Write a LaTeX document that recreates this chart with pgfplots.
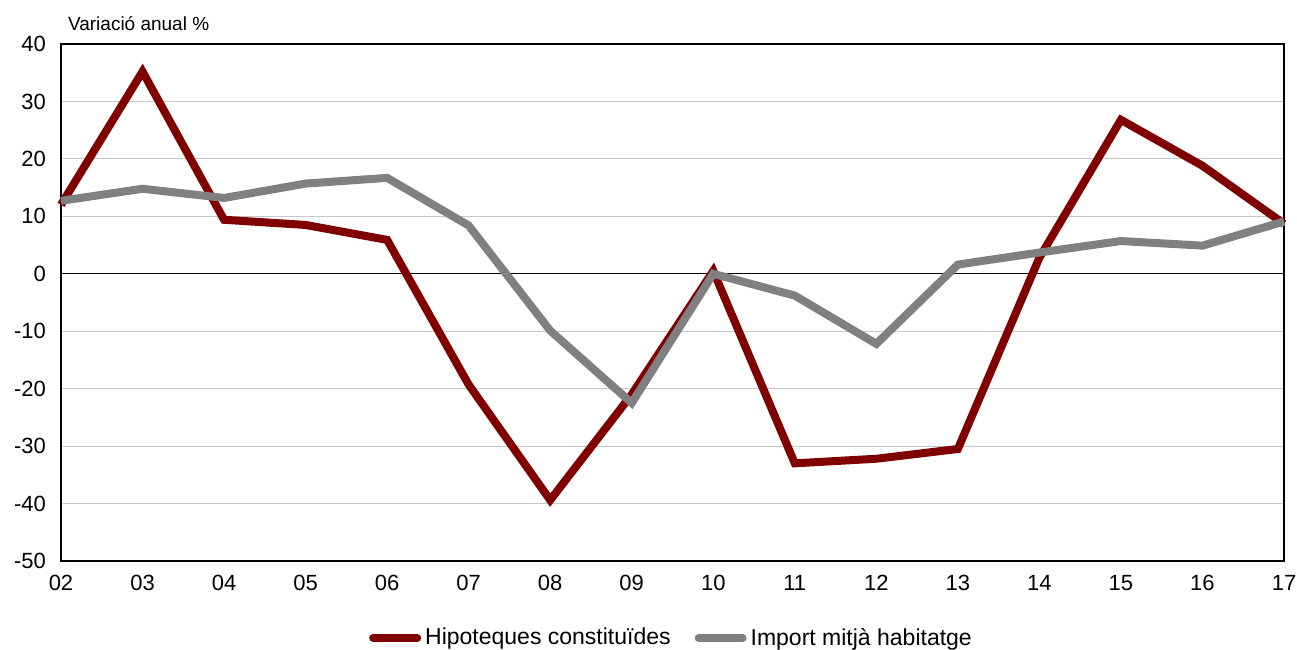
\documentclass[border=0pt]{standalone}
\usepackage{pgfplots}
\pgfplotsset{compat=1.18}
\usepackage{fontspec}
\setmainfont{Liberation Sans}
\definecolor{hipo}{HTML}{800000}
\definecolor{impo}{HTML}{808080}
\definecolor{gridc}{HTML}{C8C8C8}
\begin{document}
\begin{tikzpicture}
\useasboundingbox (-30.5pt,-44pt) rectangle (618pt,280.5pt);
\begin{axis}[
  at={(0,0)}, anchor=south west,
  scale only axis, width=611.5pt, height=258.5pt,
  xmin=0, xmax=15, ymin=-50, ymax=40,
  xtick={0,...,15},
  xticklabels={02,03,04,05,06,07,08,09,10,11,12,13,14,15,16,17},
  ytick={-50,-40,...,40},
  major tick length=0pt,
  ymajorgrids, grid style={gridc, line width=0.6pt},
  extra y ticks={0}, extra y tick labels={},
  extra y tick style={grid style={black, line width=0.6pt}},
  axis line style={black, line width=1pt},
  tick label style={font=\fontsize{11}{13}\selectfont},
  /pgf/number format/assume math mode=true,
  yticklabel style={xshift=-4pt},
  xticklabel style={yshift=-3.5pt},
  legend style={at={(0.5,-0.149)}, anchor=center, draw=none, legend columns=2,
    font=\fontsize{11.5}{13}\selectfont, /tikz/every even column/.append style={column sep=10pt},
    /tikz/every odd column/.append style={column sep=0pt}},
  legend image code/.code={\draw[#1, line cap=round] (0pt,0pt) -- (22pt,0pt);},
  clip=false,
]
\addplot[hipo, line width=4pt, line join=miter] coordinates {
(0,12) (1,35.2) (2,9.4) (3,8.5) (4,5.9) (5,-19.3) (6,-39.4) (7,-21) (8,0.5) (9,-33) (10,-32.2) (11,-30.5) (12,2.8) (13,26.8) (14,18.8) (15,8.7)};
\addlegendentry{Hipoteques constituïdes}
\addplot[impo, line width=4pt, line join=miter] coordinates {
(0,12.7) (1,14.8) (2,13.2) (3,15.7) (4,16.7) (5,8.4) (6,-9.9) (7,-22.5) (8,0) (9,-3.8) (10,-12.2) (11,1.6) (12,3.7) (13,5.7) (14,4.9) (15,9.1)};
\addlegendentry{Import mitjà habitatge}
\node[anchor=base west, font=\fontsize{9.5}{11}\selectfont] at ([xshift=0pt, yshift=7pt]rel axis cs:0,1) {Variació anual \%};
\end{axis}
\end{tikzpicture}
\end{document}
